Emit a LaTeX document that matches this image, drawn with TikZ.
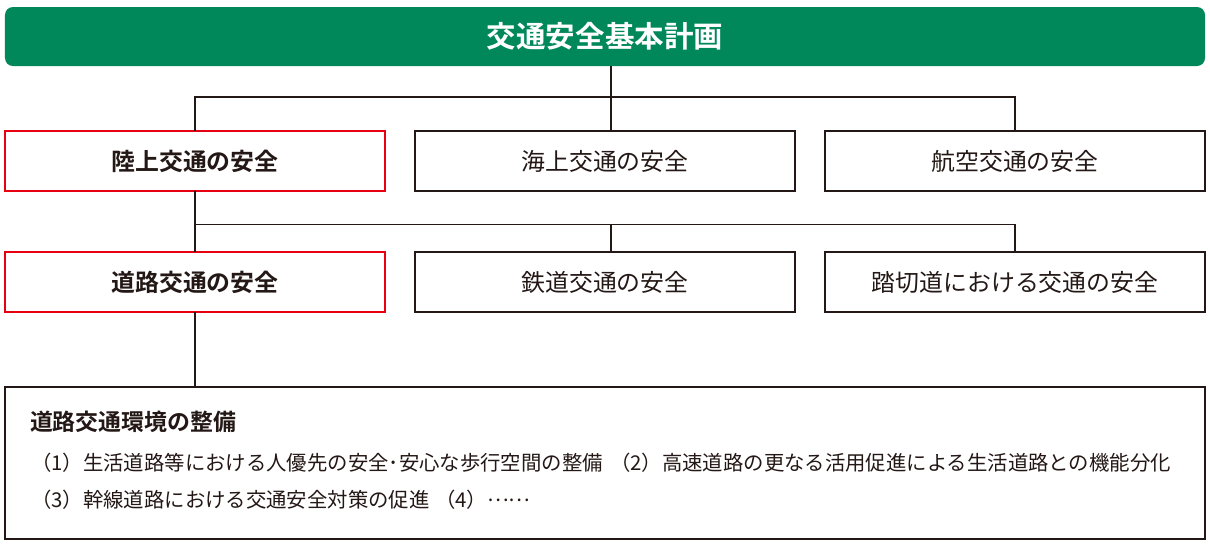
\documentclass[tikz,border=0pt]{standalone}
\usepackage{fontspec}
\setmainfont{Noto Sans CJK JP}[BoldFont={Noto Sans CJK JP Bold}]
\usetikzlibrary{positioning,calc}

\definecolor{planink}{RGB}{35,24,21}
\definecolor{plangreen}{RGB}{0,136,90}
\definecolor{planred}{RGB}{230,0,18}

\tikzset{
	planpicture/.style = {
		node distance = 0.75cm,
		every node/.style = {outer sep = 0pt},
		link/.style = {
			draw = planink,
			line width = 1.4pt,
		}
	},
	headbar/.style = {
		rectangle,
		fill = plangreen,
		rounded corners = 0.2cm,
		minimum width = 30cm,
		minimum height = 1.475cm,
		text = white,
		font = \fontsize{21}{24}\selectfont\bfseries
	},
	planbox/.style = {
		rectangle,
		draw = planink,
		line width = 1.4pt,
		minimum width = 9.5cm,
		minimum height = 1.5cm,
		text = planink,
		font = \fontsize{17}{20}\selectfont
	},
	focus/.style = {
		draw = planred,
		line width = 2.1pt,
		font = \fontsize{17}{20}\selectfont\bfseries
	},
	envbox/.style = {
		rectangle,
		draw = planink,
		line width = 1.4pt,
		minimum width = 30cm,
		minimum height = 3.8cm
	},
	envhead/.style = {
		anchor = west,
		inner sep = 0pt,
		text = planink,
		font = \fontsize{16.3}{19}\selectfont\bfseries
	},
	envitem/.style = {
		anchor = west,
		inner sep = 0pt,
		text = planink,
		font = \fontsize{14.5}{17}\selectfont
	}
}

\begin{document}
\begin{tikzpicture}[planpicture]
	\useasboundingbox (0,0) rectangle (30.25,-13.725);

	\node[headbar] (plan) at (15.125,-0.9125) {交通安全基本計画};

	\node[planbox, focus] (land) at (4.875,-4.025) {陸上交通の安全};
	\node[planbox, right = of land] (sea) {海上交通の安全};
	\node[planbox, right = of sea] (air) {航空交通の安全};

	\node[planbox, focus, below = 1.525cm of land] (road) {道路交通の安全};
	\node[planbox, right = of road] (rail) {鉄道交通の安全};
	\node[planbox, right = of rail] (crossing) {踏切道における交通の安全};

	\node[envbox, below = 1.875cm of road.south west, anchor = north west] (env) {};
	\node[envhead] (envtitle) at ($(env.north west)+(0.625,-0.875)$) {道路交通環境の整備};
	\node[envitem] (item1) at ($(env.north west)+(0.65,-1.9)$) {（1）生活道路等における人優先の安全･安心な歩行空間の整備};
	\node[envitem] (item2) at ($(env.north west)+(15.125,-1.9)$) {（2）高速道路の更なる活用促進による生活道路との機能分化};
	\node[envitem] (item3) at ($(env.north west)+(0.65,-2.825)$) {（3）幹線道路における交通安全対策の促進};
	\node[envitem] (item4) at ($(env.north west)+(10.75,-2.825)$) {（4）\raisebox{0.3em}{……}};

	\coordinate (hub) at ($(plan.south)+(0.15,0)$);
	\coordinate (bus1) at ($(hub)+(0,-0.775)$);
	\coordinate (bus2) at ($(land.south)+(0,-0.8375)$);

	\begin{scope}[every path/.style = link]
		\path (hub) -- (bus1) -- (bus1 |- sea.north);
		\path (land.north) |- (bus1) -| (air.north);

		\path (land.south) -- (road.north);
		\path (bus2) -| (crossing.north);
		\path (bus2 -| hub) -- (rail.north -| hub);

		\path (road.south) -- (road.south |- env.north);
	\end{scope}
\end{tikzpicture}
\end{document}
